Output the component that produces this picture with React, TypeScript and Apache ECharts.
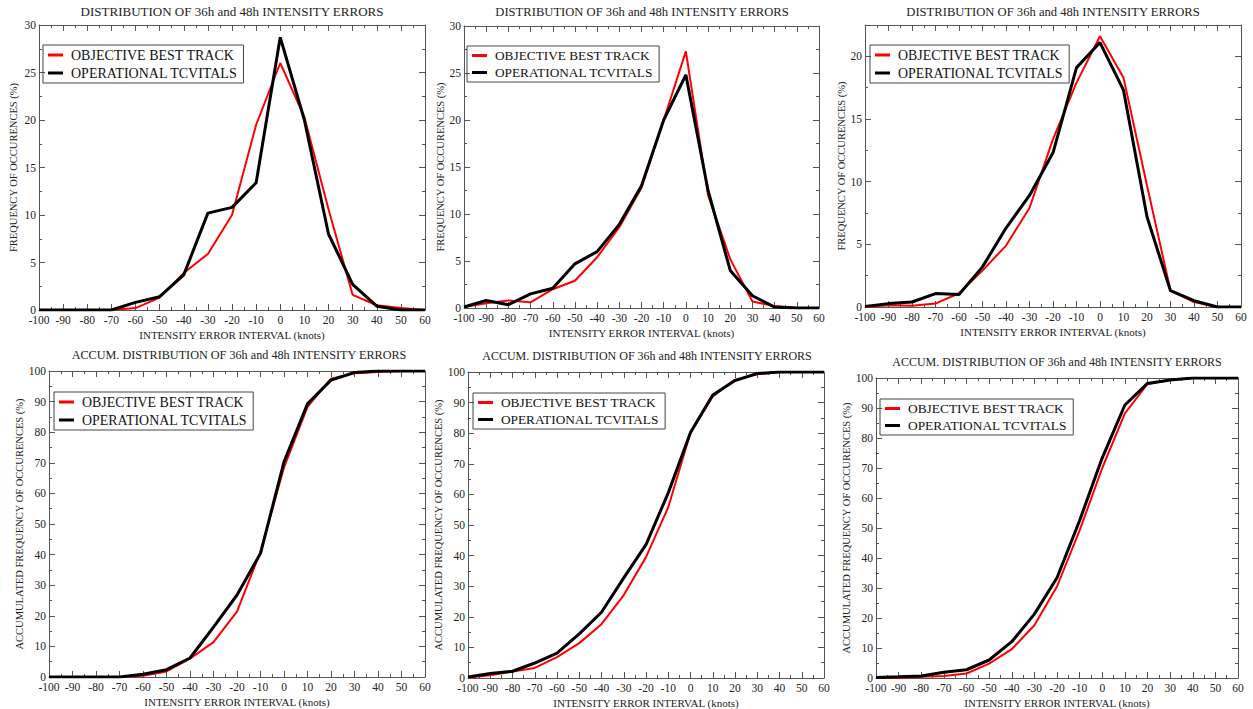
import React, { useEffect, useRef } from "react";
import * as echarts from "echarts";

const xValues = [-100, -90, -80, -70, -60, -50, -40, -30, -20, -10, 0, 10, 20, 30, 40, 50, 60];
const xTicks = { min: -100, max: 60, interval: 10 };

const seriesNames = ["OBJECTIVE BEST TRACK", "OPERATIONAL TCVITALS"];

// Panel 1 (top-left) frequency %
const p1Best = [0, 0, 0, 0, 0.2, 1.3, 3.9, 5.9, 10, 19.5, 26, 20.3, 10.6, 1.6, 0.5, 0.2, 0];
const p1Tcv = [0, 0, 0, 0, 0.8, 1.4, 3.7, 10.2, 10.8, 13.4, 28.7, 20, 8, 2.7, 0.4, 0, 0];
// Panel 2 (top-middle)
const p2Best = [0.1, 0.5, 0.8, 0.6, 2.0, 2.9, 5.4, 8.6, 12.8, 20, 27.3, 12, 5.2, 0.7, 0.2, 0, 0];
const p2Tcv = [0.1, 0.8, 0.35, 1.5, 2.1, 4.7, 6.0, 8.9, 13, 20, 24.8, 12.5, 4, 1.3, 0.1, 0, 0];
// Panel 3 (top-right)
const p3Best = [0, 0.13, 0.1, 0.27, 1.1, 2.9, 4.9, 7.9, 13.4, 17.9, 21.6, 18.3, 9.7, 1.3, 0.4, 0, 0];
const p3Tcv = [0.05, 0.27, 0.4, 1.07, 1.0, 3.2, 6.3, 8.9, 12.3, 19.1, 21.1, 17.3, 7.2, 1.3, 0.5, 0, 0];
// Panel 4 (bottom-left) accumulated %
const p4Best = [0, 0, 0, 0, 0.4, 1.8, 6, 11.4, 21.4, 41, 68.5, 88.3, 97.5, 99.3, 99.7, 100, 100];
const p4Tcv = [0, 0, 0, 0, 0.9, 2.4, 6.2, 16.3, 26.8, 40.4, 70.3, 89.3, 97, 99.5, 100, 100, 100];
// Panel 5 (bottom-middle)
const p5Best = [0.2, 0.9, 2.1, 3.3, 6.8, 11.4, 17.6, 27.1, 39.5, 55.8, 80.2, 92, 97.5, 99.3, 100, 100, 100];
const p5Tcv = [0.3, 1.5, 2.2, 4.9, 8.1, 14.4, 21.5, 32.7, 43.6, 60.5, 80.2, 92.5, 97.2, 99.5, 100, 100, 100];
// Panel 6 (bottom-right)
const p6Best = [0, 0, 0.4, 0.7, 1.5, 4.8, 9.6, 17.6, 30.5, 49.2, 70, 88.2, 98, 99.3, 100, 100, 100];
const p6Tcv = [0.2, 0.4, 0.7, 1.9, 2.75, 6.0, 12.1, 21.3, 33.4, 52.5, 73.4, 91, 98.2, 99.3, 100, 100, 100];

const titleTop = "DISTRIBUTION OF 36h and 48h INTENSITY ERRORS";
const titleBottom = "ACCUM. DISTRIBUTION OF 36h and 48h INTENSITY ERRORS";
const xName = "INTENSITY ERROR INTERVAL (knots)";
const yNameTop = "FREQUENCY OF OCCURENCES (%)";
const yNameBottom = "ACCUMULATED FREQUENCY OF OCCURENCES (%)";

const panels = [
  { best: p1Best, tcv: p1Tcv, title: titleTop, yName: yNameTop, yMax: 30, yInt: 5,
    grid: { left: 39, top: 25, width: 386, height: 285 }, titleX: 232, titleY: 5, titleFont: 13, yGap: 20,
    legend: { left: 43, top: 45, font: 14 } },
  { best: p2Best, tcv: p2Tcv, title: titleTop, yName: yNameTop, yMax: 30, yInt: 5,
    grid: { left: 464, top: 26, width: 355, height: 282 }, titleX: 642, titleY: 5, titleFont: 12.6, yGap: 17,
    legend: { left: 467, top: 46, font: 13.3 } },
  { best: p3Best, tcv: p3Tcv, title: titleTop, yName: yNameTop, yMax: 22.5, yInt: 5,
    grid: { left: 865, top: 25, width: 376, height: 282 }, titleX: 1053, titleY: 5, titleFont: 12.6, yGap: 18,
    legend: { left: 870, top: 45, font: 13.9 } },
  { best: p4Best, tcv: p4Tcv, title: titleBottom, yName: yNameBottom, yMax: 100, yInt: 10,
    grid: { left: 49, top: 371, width: 376, height: 306 }, titleX: 239, titleY: 349, titleFont: 12.2, yGap: 22,
    legend: { left: 54, top: 392, font: 13.9 } },
  { best: p5Best, tcv: p5Tcv, title: titleBottom, yName: yNameBottom, yMax: 100, yInt: 10,
    grid: { left: 468, top: 372, width: 356, height: 308 }, titleX: 647, titleY: 350, titleFont: 12, yGap: 21,
    legend: { left: 473, top: 393, font: 13.3 } },
  { best: p6Best, tcv: p6Tcv, title: titleBottom, yName: yNameBottom, yMax: 100, yInt: 10,
    grid: { left: 876, top: 378, width: 362, height: 303 }, titleX: 1057, titleY: 356, titleFont: 12, yGap: 24,
    legend: { left: 880, top: 399, font: 13.4 } },
];

const FONT = "Liberation Serif";
const AXIS_COLOR = "#555";
const TEXT_COLOR = "#222";

function buildOption() {
  const grids: any[] = [];
  const xAxes: any[] = [];
  const yAxes: any[] = [];
  const series: any[] = [];
  const titles: any[] = [];
  const legends: any[] = [];

  const lineCommon = { show: true, onZero: false, lineStyle: { color: AXIS_COLOR, width: 1 } };
  const tickCommon = { show: true, inside: true, length: 6, lineStyle: { color: AXIS_COLOR } };
  const minorCommon = { show: true, splitNumber: 2, length: 3, lineStyle: { color: AXIS_COLOR } };
  const labelCommon = { fontFamily: FONT, fontSize: 11.5, color: TEXT_COLOR, lineHeight: 9 };

  panels.forEach((p, i) => {
    grids.push({ ...p.grid, containLabel: false, show: false });
    const xBase = {
      type: "value", gridIndex: i, min: xTicks.min, max: xTicks.max, interval: xTicks.interval,
      axisLine: lineCommon, axisTick: tickCommon, minorTick: minorCommon,
      splitLine: { show: false }, minorSplitLine: { show: false },
    };
    xAxes.push({
      ...xBase, position: "bottom",
      axisLabel: { ...labelCommon, margin: 5 },
      name: xName, nameLocation: "middle", nameGap: 19,
      nameTextStyle: { fontFamily: FONT, fontSize: 11, color: TEXT_COLOR },
    });
    xAxes.push({ ...xBase, position: "top", axisLabel: { show: false } });
    const yBase = {
      type: "value", gridIndex: i, min: 0, max: p.yMax, interval: p.yInt,
      axisLine: lineCommon, axisTick: tickCommon, minorTick: minorCommon,
      splitLine: { show: false }, minorSplitLine: { show: false },
    };
    yAxes.push({
      ...yBase, position: "left",
      axisLabel: {
        ...labelCommon, margin: 3,
        formatter: (v: number) => (v % p.yInt === 0 ? String(v) : ""),
      },
      name: p.yName, nameLocation: "middle", nameGap: p.yGap, nameRotate: 90,
      nameTextStyle: { fontFamily: FONT, fontSize: 10.5, color: TEXT_COLOR },
    });
    yAxes.push({ ...yBase, position: "right", axisLabel: { show: false } });

    const names = [seriesNames[0] + "\u200b".repeat(i), seriesNames[1] + "\u200b".repeat(i)];
    series.push({
      type: "line", name: names[0], xAxisIndex: 2 * i, yAxisIndex: 2 * i,
      data: xValues.map((x, k) => [x, p.best[k]]), symbol: "none",
      lineStyle: { color: "#ff0000", width: 2 }, itemStyle: { color: "#ff0000" }, z: 2,
    });
    series.push({
      type: "line", name: names[1], xAxisIndex: 2 * i, yAxisIndex: 2 * i,
      data: xValues.map((x, k) => [x, p.tcv[k]]), symbol: "none",
      lineStyle: { color: "#000000", width: 3 }, itemStyle: { color: "#000000" }, z: 3,
    });

    titles.push({
      text: p.title, left: p.titleX, top: p.titleY, textAlign: "center",
      textStyle: { fontFamily: FONT, fontSize: p.titleFont, fontWeight: "normal", color: TEXT_COLOR },
      padding: 0,
    });
    legends.push({
      data: names, left: p.legend.left, top: p.legend.top, orient: "vertical",
      icon: "rect", itemWidth: 15, itemHeight: 3, itemGap: 4,
      padding: [3, 6, 3, 5], borderColor: "#444", borderWidth: 1, selectedMode: false,
      textStyle: { fontFamily: FONT, fontSize: p.legend.font, color: "#111", padding: [0, 0, 0, 3] },
      formatter: (n: string) => n.replace(/\u200b/g, ""),
    });
  });

  return {
    animation: false,
    backgroundColor: "#ffffff",
    title: titles,
    legend: legends,
    grid: grids,
    xAxis: xAxes,
    yAxis: yAxes,
    series,
  };
}

export default function App() {
  const ref = useRef<HTMLDivElement>(null);
  useEffect(() => {
    if (!ref.current) return;
    const chart = echarts.init(ref.current, null, { renderer: "svg" });
    chart.setOption(buildOption() as any);
    return () => chart.dispose();
  }, []);
  return (
    <div
      ref={ref}
      style={{ position: "absolute", left: 0, top: 0, width: 1253, height: 709, background: "#fff" }}
    />
  );
}
